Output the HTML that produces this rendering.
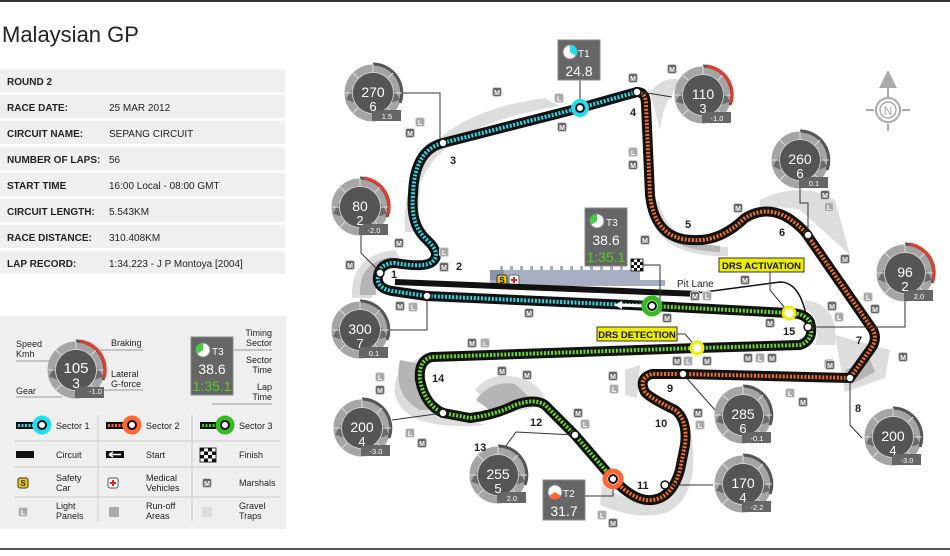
<!DOCTYPE html>
<html><head><meta charset="utf-8"><style>
body{margin:0;background:#fff;width:950px;height:551px;overflow:hidden;font-family:"Liberation Sans",sans-serif;}
</style></head><body>
<svg width="950" height="551" viewBox="0 0 950 551" xmlns="http://www.w3.org/2000/svg" font-family="Liberation Sans, sans-serif">
<defs>
<g id="mk"><rect x="-4.5" y="-4.5" width="9" height="9" rx="2" fill="#666" stroke="#ccc" stroke-width="1"/><text x="0" y="3" font-size="7" fill="#fff" text-anchor="middle" font-weight="bold">M</text></g>
<g id="lk"><rect x="-4.5" y="-4.5" width="9" height="9" rx="2" fill="#aaa" stroke="#ddd" stroke-width="1"/><text x="0" y="3" font-size="7" fill="#fff" text-anchor="middle" font-weight="bold">L</text></g>
<g id="dial">
<circle r="24.5" fill="none" stroke="#a5a5a5" stroke-width="8"/>
<path d="M-23,8 A24.5,24.5 0 0 1 23,8" fill="none" stroke="#6a6a6a" stroke-width="8"/>
<circle r="20.5" fill="#555"/>
<circle r="20.5" fill="none" stroke="#ddd" stroke-width="0.8"/>
<path d="M0,-29 A29,29 0 0 1 27,10" fill="none" stroke="#555" stroke-width="3"/>
<g stroke="#ddd" stroke-width="1"><line x1="0" y1="-21" x2="0" y2="-29"/><line x1="15" y1="-15" x2="20" y2="-20"/><line x1="-15" y1="-15" x2="-20" y2="-20"/><line x1="21" y1="0" x2="29" y2="0"/><line x1="-21" y1="0" x2="-29" y2="0"/><line x1="-15" y1="15" x2="-20" y2="20"/><line x1="15" y1="15" x2="20" y2="20"/></g>
<rect x="-1" y="17" width="29" height="11" fill="#666"/>
</g>
<g id="dialr">
<use href="#dial"/>
<path d="M4,-29 A29,29 0 0 1 28,8" fill="none" stroke="#e8392a" stroke-width="3"/>
</g>
</defs>

<rect x="0" y="0" width="950" height="2" fill="#333"/>
<rect x="0" y="548" width="950" height="2" fill="#555"/>

<text x="2" y="42" font-size="22" fill="#222">Malaysian GP</text>

<g font-size="10" font-weight="bold" fill="#222">
<rect x="0" y="69" width="285" height="23" fill="#efefef"/>
<rect x="0" y="95" width="285" height="23" fill="#efefef"/>
<rect x="0" y="121" width="285" height="23" fill="#efefef"/>
<rect x="0" y="147" width="285" height="23" fill="#efefef"/>
<rect x="0" y="173" width="285" height="23" fill="#efefef"/>
<rect x="0" y="199" width="285" height="23" fill="#efefef"/>
<rect x="0" y="225" width="285" height="23" fill="#efefef"/>
<rect x="0" y="251" width="285" height="23" fill="#efefef"/>
<text x="7" y="85">ROUND 2</text>
<text x="7" y="111">RACE DATE:</text>
<text x="7" y="137">CIRCUIT NAME:</text>
<text x="7" y="163">NUMBER OF LAPS:</text>
<text x="7" y="189">START TIME</text>
<text x="7" y="215">CIRCUIT LENGTH:</text>
<text x="7" y="241">RACE DISTANCE:</text>
<text x="7" y="267">LAP RECORD:</text>
<g font-weight="normal">
<text x="109" y="111">25 MAR 2012</text>
<text x="109" y="137">SEPANG CIRCUIT</text>
<text x="109" y="163">56</text>
<text x="109" y="189">16:00 Local - 08:00 GMT</text>
<text x="109" y="215">5.543KM</text>
<text x="109" y="241">310.408KM</text>
<text x="109" y="267">1:34.223 - J P Montoya [2004]</text>
</g></g>

<rect x="0" y="316" width="286" height="213" fill="#efefef"/>
<g font-size="9" fill="#222">
<use href="#dialr" x="76" y="370"/>
<text x="76" y="373" font-size="15" fill="#fff" text-anchor="middle">105</text>
<text x="76" y="388" font-size="14" fill="#fff" text-anchor="middle">3</text>
<text x="89" y="394" font-size="7.5" fill="#fff">-1.0</text>
<text x="16" y="347">Speed</text><text x="16" y="357">Kmh</text>
<line x1="16" y1="361" x2="50" y2="361" stroke="#999"/>
<text x="111" y="346">Braking</text>
<line x1="100" y1="350" x2="143" y2="350" stroke="#999"/>
<text x="111" y="377">Lateral</text><text x="111" y="387">G-force</text>
<line x1="104" y1="390" x2="143" y2="390" stroke="#999"/>
<text x="16" y="394">Gear</text>
<line x1="16" y1="397" x2="62" y2="397" stroke="#999"/>
<rect x="191" y="337" width="42" height="58" fill="#666" stroke="#888"/>
<circle cx="203" cy="350" r="7" fill="#fff" stroke="#888"/>
<path d="M203,350 L203,343 A7,7 0 0 0 197,354 Z" fill="#4c4"/>
<text x="212" y="355" font-size="10" fill="#fff">T3</text>
<text x="212" y="374" font-size="14" fill="#fff" text-anchor="middle">38.6</text>
<text x="212" y="391" font-size="14" fill="#5c2" text-anchor="middle">1:35.1</text>
<text x="272" y="336" text-anchor="end">Timing</text><text x="272" y="346" text-anchor="end">Sector</text>
<line x1="234" y1="350" x2="272" y2="350" stroke="#999"/>
<text x="272" y="363" text-anchor="end">Sector</text><text x="272" y="373" text-anchor="end">Time</text>
<text x="272" y="390" text-anchor="end">Lap</text><text x="272" y="400" text-anchor="end">Time</text>
<line x1="212" y1="404" x2="272" y2="404" stroke="#999"/>
<g stroke="#ccc"><line x1="98" y1="415" x2="98" y2="522"/><line x1="192" y1="415" x2="192" y2="522"/><line x1="14" y1="441" x2="280" y2="441"/><line x1="14" y1="467" x2="280" y2="467"/><line x1="14" y1="497" x2="280" y2="497"/></g>
<rect x="16" y="422" width="20" height="7" fill="#111"/><line x1="18" y1="425.5" x2="34" y2="425.5" stroke="#2de" stroke-width="3" stroke-dasharray="2,1.5"/>
<circle cx="42" cy="425" r="7" fill="#fff" stroke="#2de" stroke-width="5"/><circle cx="42" cy="425" r="4" fill="#fff" stroke="#111" stroke-width="2"/>
<text x="56" y="429">Sector 1</text>
<rect x="106" y="422" width="20" height="7" fill="#111"/><line x1="108" y1="425.5" x2="124" y2="425.5" stroke="#f63" stroke-width="3" stroke-dasharray="2,1.5"/>
<circle cx="132" cy="425" r="7" fill="#fff" stroke="#f63" stroke-width="5"/><circle cx="132" cy="425" r="4" fill="#fff" stroke="#111" stroke-width="2"/>
<text x="146" y="429">Sector 2</text>
<rect x="200" y="422" width="20" height="7" fill="#111"/><line x1="202" y1="425.5" x2="218" y2="425.5" stroke="#4c2" stroke-width="3" stroke-dasharray="2,1.5"/>
<circle cx="225" cy="425" r="7" fill="#fff" stroke="#3b2" stroke-width="5"/><circle cx="225" cy="425" r="4" fill="#fff" stroke="#111" stroke-width="2"/>
<text x="239" y="429">Sector 3</text>
<rect x="16" y="451" width="18" height="7" fill="#111"/><text x="56" y="458">Circuit</text>
<rect x="106" y="451" width="18" height="7" fill="#111"/><path d="M109,454.5 L121,454.5 M109,454.5 L113,452 M109,454.5 L113,457" stroke="#fff" stroke-width="1.5"/><text x="146" y="458">Start</text>
<g><rect x="200" y="448" width="16" height="14" fill="#fff" stroke="#333"/><rect x="200" y="448" width="4" height="3.5" fill="#111"/><rect x="208" y="448" width="4" height="3.5" fill="#111"/><rect x="204" y="451.5" width="4" height="3.5" fill="#111"/><rect x="212" y="451.5" width="4" height="3.5" fill="#111"/><rect x="200" y="455" width="4" height="3.5" fill="#111"/><rect x="208" y="455" width="4" height="3.5" fill="#111"/><rect x="204" y="458.5" width="4" height="3.5" fill="#111"/><rect x="212" y="458.5" width="4" height="3.5" fill="#111"/></g>
<text x="239" y="458">Finish</text>
<rect x="18" y="478" width="10" height="10" rx="2" fill="#ec0" stroke="#333"/><text x="23" y="486" font-size="8" font-weight="bold" text-anchor="middle">S</text>
<text x="56" y="481">Safety</text><text x="56" y="491">Car</text>
<rect x="108" y="478" width="10" height="10" rx="2" fill="#fff" stroke="#555"/><path d="M113,480 V486 M110,483 H116" stroke="#e22" stroke-width="2"/>
<text x="146" y="481">Medical</text><text x="146" y="491">Vehicles</text>
<use href="#mk" x="207" y="483"/><text x="239" y="486">Marshals</text>
<use href="#lk" x="23" y="512"/><text x="56" y="509">Light</text><text x="56" y="519">Panels</text>
<rect x="109" y="507" width="10" height="10" fill="#aaa"/><text x="146" y="509">Run-off</text><text x="146" y="519">Areas</text>
<rect x="202" y="507" width="10" height="10" fill="#ddd"/><text x="239" y="509">Gravel</text><text x="239" y="519">Traps</text>
</g>

<g fill="#ddd">
<path d="M405,232 Q398,118 545,98 L560,106 Q440,125 420,185 L418,232 Z"/>
<path d="M352,298 Q350,255 395,250 L402,262 Q372,266 372,298 Z"/>
<path d="M650,92 Q665,75 680,80 L672,95 Q663,105 660,130 Z"/>
<path d="M648,205 Q655,258 728,256 L728,247 Q668,245 658,200 Z"/>
<path d="M760,200 Q800,180 835,200 L850,255 L800,210 Q780,205 760,210 Z"/>
<path d="M835,335 L890,350 L885,378 L845,392 Z"/>
<path d="M805,300 Q840,305 835,345 L815,345 Q822,315 805,310 Z"/>
<path d="M440,352 Q390,362 395,395 Q405,432 485,425 L460,418 Q425,410 425,370 Z"/>
<path d="M475,390 Q490,370 520,378 Q545,385 545,405 L500,415 Z"/>
<path d="M688,418 Q705,492 668,512 Q640,522 600,505 L602,485 Q640,512 668,490 Q686,460 680,420 Z"/>
<path d="M625,370 L640,365 L637,398 L625,395 Z"/>
</g>
<g fill="#b5b5b5">
<path d="M360,295 Q358,262 392,257 L396,265 Q374,268 376,295 Z"/>
<path d="M652,215 Q662,250 720,252 L720,246 Q670,242 656,212 Z"/>
<path d="M400,360 Q392,395 420,410 L440,410 Q420,395 425,365 Z"/>
<path d="M845,370 L870,360 L875,372 L850,385 Z"/>
<path d="M476,400 Q490,380 515,384 L530,398 L495,414 Z"/>
</g>

<path d="M490,270 L500,270 L500,266 L503,266 L503,270 L510,270 L510,266 L513,266 L513,270 L520,270 L520,266 L523,266 L523,270 L530,270 L530,266 L533,266 L533,270 L540,270 L540,266 L543,266 L543,270 L550,270 L550,266 L553,266 L553,270 L560,270 L560,266 L563,266 L563,270 L570,270 L570,266 L573,266 L573,270 L580,270 L580,266 L583,266 L583,270 L590,270 L590,266 L593,266 L593,270 L600,270 L600,266 L603,266 L603,270 L610,270 L610,266 L613,266 L613,270 L620,270 L620,266 L623,266 L623,270 L640,270 L640,280 L665,280 L665,286 L490,286 Z" fill="#a7b0c2"/>
<rect x="490" y="270" width="14" height="10" fill="#8a94aa"/>
<rect x="497" y="275" width="10" height="10" rx="2" fill="#ec0" stroke="#333"/><text x="502" y="283" font-size="8" font-weight="bold" text-anchor="middle">S</text>
<rect x="509" y="275" width="10" height="10" rx="2" fill="#fff" stroke="#666"/><path d="M514,277 V283 M511,280 H517" stroke="#e22" stroke-width="2"/>

<path d="M395,282 L700,294" stroke="#111" stroke-width="6" fill="none"/>
<path d="M690,294 L780,282 Q802,282 808,326" stroke="#111" stroke-width="1.5" fill="none"/>
<text x="677" y="287" font-size="10" fill="#222">Pit Lane</text>

<g fill="none" stroke="#111" stroke-width="10" stroke-linejoin="round" stroke-linecap="round">
<path id="s1" d="M652,306 L427,296 L392,291 Q376,288 378,276 Q380,263 395,263 Q425,268 432,262 Q442,254 427,240 Q410,225 413,195 Q414,150 443,143 L580,108 L637,92"/>
<path id="s2" d="M637,92 Q646,92 646,105 L650,195 Q655,240 693,240 Q720,242 745,218 Q775,200 805,232 L873,330 Q878,340 870,350 L850,378 L683,374 L652,374 Q638,378 645,392 Q650,398 675,410 Q688,420 685,445 L680,470 Q672,498 652,500 Q635,502 613,479"/>
<path id="s3" d="M613,479 L575,435 L545,405 Q535,398 515,405 Q495,415 470,418 L443,413 Q425,405 420,380 Q418,360 432,357 L697,348 L800,345 Q815,340 810,322 Q805,313 789,313 L652,306"/>
</g>
<g fill="none" stroke-width="4" stroke-dasharray="2,1.6">
<use href="#s1" stroke="#2ad8e8"/>
<use href="#s2" stroke="#f07020"/>
<use href="#s3" stroke="#6ddc20"/>
</g>
<path d="M618,305 L645,306" stroke="#fff" stroke-width="3"/><path d="M614,305 L622,301 L622,309 Z" fill="#fff"/>

<g stroke="#333" stroke-width="1" fill="none">
<polyline points="400,93 440,93 440,143"/>
<polyline points="361,232 361,253 380,272"/>
<polyline points="389,330 427,330 427,296"/>
<polyline points="392,420 443,413"/>
<polyline points="503,450 516,432 575,435"/>
<polyline points="580,80 580,108"/>
<polyline points="672,97 641,92"/>
<polyline points="800,188 800,203 808,203 808,235"/>
<polyline points="905,300 905,327 808,327"/>
<polyline points="715,410 683,374"/>
<polyline points="713,485 665,485"/>
<polyline points="862,438 850,425 850,378"/>
<polyline points="613,479 613,496 585,496"/>
<polyline points="641,265 660,265 660,306 652,306"/>
<polyline points="770,272 770,290 789,313"/>
<polyline points="677,334 685,334 697,348"/>
</g>

<g fill="#fff" stroke="#111" stroke-width="1.5">
<circle cx="380" cy="273" r="4"/><circle cx="427" cy="296" r="4"/><circle cx="443" cy="143" r="4"/><circle cx="637" cy="92" r="4"/>
<circle cx="808" cy="235" r="4"/><circle cx="850" cy="378" r="4"/><circle cx="683" cy="374" r="4"/><circle cx="665" cy="485" r="4"/>
<circle cx="575" cy="435" r="4"/><circle cx="443" cy="413" r="4"/><circle cx="808" cy="327" r="4"/>
</g>
<circle cx="580" cy="108" r="7" fill="#fff" stroke="#2de" stroke-width="4"/><circle cx="580" cy="108" r="4" fill="#fff" stroke="#111" stroke-width="2"/>
<circle cx="613" cy="479" r="8" fill="#fff" stroke="#f63" stroke-width="5"/><circle cx="613" cy="479" r="4" fill="#fff" stroke="#111" stroke-width="2"/>
<circle cx="652" cy="306" r="8" fill="#fff" stroke="#3b2" stroke-width="5"/><circle cx="652" cy="306" r="4" fill="#fff" stroke="#111" stroke-width="2"/>
<circle cx="789" cy="313" r="6" fill="#fff" stroke="#ee0" stroke-width="3"/>
<circle cx="697" cy="348" r="6" fill="#fff" stroke="#ee0" stroke-width="3"/>

<g><rect x="631" y="259" width="12" height="12" fill="#fff" stroke="#333"/><rect x="631" y="259" width="3" height="3" fill="#111"/><rect x="637" y="259" width="3" height="3" fill="#111"/><rect x="634" y="262" width="3" height="3" fill="#111"/><rect x="640" y="262" width="3" height="3" fill="#111"/><rect x="631" y="265" width="3" height="3" fill="#111"/><rect x="637" y="265" width="3" height="3" fill="#111"/><rect x="634" y="268" width="3" height="3" fill="#111"/><rect x="640" y="268" width="3" height="3" fill="#111"/></g>

<rect x="719" y="258" width="85" height="14" fill="#ee0" stroke="#333"/><text x="761.5" y="269" font-size="9.5" font-weight="bold" text-anchor="middle" fill="#111">DRS ACTIVATION</text>
<rect x="597" y="327" width="80" height="14" fill="#ee0" stroke="#333"/><text x="637" y="338" font-size="9.5" font-weight="bold" text-anchor="middle" fill="#111">DRS DETECTION</text>

<g>
<rect x="558" y="40" width="42" height="40" fill="#666" stroke="#888"/>
<circle cx="570" cy="52" r="7" fill="#fff" stroke="#888"/><path d="M570,52 L570,45 A7,7 0 0 1 576,56 Z" fill="#2de"/>
<text x="578" y="57" font-size="10" fill="#fff">T1</text>
<text x="579" y="76" font-size="14" fill="#fff" text-anchor="middle">24.8</text>
<rect x="585" y="208" width="42" height="58" fill="#666" stroke="#888"/>
<circle cx="597" cy="221" r="7" fill="#fff" stroke="#888"/><path d="M597,221 L597,214 A7,7 0 0 0 591,225 Z" fill="#4c4"/>
<text x="606" y="226" font-size="10" fill="#fff">T3</text>
<text x="606" y="245" font-size="14" fill="#fff" text-anchor="middle">38.6</text>
<text x="606" y="262" font-size="14" fill="#5c2" text-anchor="middle">1:35.1</text>
<rect x="543" y="480" width="42" height="40" fill="#666" stroke="#888"/>
<circle cx="555" cy="492" r="7" fill="#fff" stroke="#888"/><path d="M555,492 L561,496 A7,7 0 0 1 549,496 Z" fill="#f63"/>
<text x="563" y="497" font-size="10" fill="#fff">T2</text>
<text x="564" y="516" font-size="14" fill="#fff" text-anchor="middle">31.7</text>
</g>

<g fill="#fff" text-anchor="middle">
<use href="#dial" x="373" y="93"/><text x="373" y="97" font-size="14">270</text><text x="373" y="111" font-size="13">6</text><text x="387" y="119" font-size="7.5">1.5</text>
<use href="#dialr" x="360" y="207"/><text x="360" y="211" font-size="14">80</text><text x="360" y="225" font-size="13">2</text><text x="374" y="233" font-size="7.5">-2.0</text>
<use href="#dial" x="360" y="330"/><text x="360" y="334" font-size="14">300</text><text x="360" y="348" font-size="13">7</text><text x="374" y="356" font-size="7.5">0.1</text>
<use href="#dial" x="362" y="428"/><text x="362" y="432" font-size="14">200</text><text x="362" y="446" font-size="13">4</text><text x="376" y="454" font-size="7.5">-3.0</text>
<use href="#dial" x="498" y="475"/><text x="498" y="479" font-size="14">255</text><text x="498" y="493" font-size="13">5</text><text x="512" y="501" font-size="7.5">2.0</text>
<use href="#dialr" x="703" y="95"/><text x="703" y="99" font-size="14">110</text><text x="703" y="113" font-size="13">3</text><text x="717" y="121" font-size="7.5">-1.0</text>
<use href="#dial" x="800" y="160"/><text x="800" y="164" font-size="14">260</text><text x="800" y="178" font-size="13">6</text><text x="814" y="186" font-size="7.5">0.1</text>
<use href="#dialr" x="905" y="273"/><text x="905" y="277" font-size="14">96</text><text x="905" y="291" font-size="13">2</text><text x="919" y="299" font-size="7.5">2.0</text>
<use href="#dial" x="743" y="415"/><text x="743" y="419" font-size="14">285</text><text x="743" y="433" font-size="13">6</text><text x="757" y="441" font-size="7.5">-0.1</text>
<use href="#dial" x="743" y="484"/><text x="743" y="488" font-size="14">170</text><text x="743" y="502" font-size="13">4</text><text x="757" y="510" font-size="7.5">-2.2</text>
<use href="#dial" x="893" y="437"/><text x="893" y="441" font-size="14">200</text><text x="893" y="455" font-size="13">4</text><text x="907" y="463" font-size="7.5">-3.0</text>
</g>

<g stroke="#aaa" fill="none" stroke-width="2">
<circle cx="888" cy="110" r="12"/><circle cx="888" cy="110" r="8" stroke-width="1.5"/>
<line x1="874" y1="110" x2="866" y2="110"/><line x1="902" y1="110" x2="910" y2="110"/><line x1="888" y1="124" x2="888" y2="131"/><line x1="888" y1="98" x2="888" y2="88"/>
</g>
<path d="M888,70 L897,88 L879,88 Z" fill="#aaa"/>
<text x="888" y="115" font-size="12" fill="#aaa" text-anchor="middle">N</text>

<g font-size="11" font-weight="bold" fill="#222">
<text x="391" y="278">1</text><text x="456" y="270">2</text><text x="450" y="164">3</text><text x="630" y="116">4</text>
<text x="685" y="228">5</text><text x="779" y="236">6</text><text x="856" y="344">7</text><text x="855" y="412">8</text>
<text x="667" y="392">9</text><text x="655" y="427">10</text><text x="637" y="489">11</text><text x="530" y="426">12</text>
<text x="474" y="451">13</text><text x="432" y="382">14</text><text x="783" y="335">15</text>
</g>

<g>
<use href="#mk" x="497" y="92"/><use href="#lk" x="559" y="98"/><use href="#mk" x="562" y="127"/>
<use href="#mk" x="410" y="133"/><use href="#lk" x="420" y="122"/><use href="#mk" x="399" y="243"/>
<use href="#mk" x="350" y="265"/><use href="#lk" x="444" y="252"/><use href="#mk" x="444" y="267"/>
<use href="#mk" x="400" y="306"/><use href="#lk" x="413" y="307"/><use href="#mk" x="529" y="313"/>
<use href="#mk" x="633" y="78"/><use href="#lk" x="633" y="152"/><use href="#mk" x="633" y="165"/>
<use href="#mk" x="645" y="240"/><use href="#mk" x="672" y="69"/><use href="#mk" x="738" y="208"/>
<use href="#mk" x="825" y="195"/><use href="#lk" x="829" y="207"/><use href="#mk" x="845" y="259"/>
<use href="#mk" x="745" y="280"/><use href="#mk" x="695" y="296"/><use href="#lk" x="707" y="296"/>
<use href="#mk" x="667" y="318"/><use href="#mk" x="770" y="323"/><use href="#lk" x="868" y="297"/>
<use href="#mk" x="875" y="309"/><use href="#mk" x="832" y="306"/><use href="#lk" x="839" y="317"/>
<use href="#mk" x="748" y="358"/><use href="#lk" x="760" y="358"/><use href="#mk" x="772" y="358"/>
<use href="#mk" x="677" y="361"/><use href="#lk" x="688" y="361"/><use href="#mk" x="707" y="361"/>
<use href="#mk" x="829" y="364"/><use href="#mk" x="903" y="357"/><use href="#mk" x="613" y="376"/>
<use href="#lk" x="614" y="389"/><use href="#mk" x="472" y="343"/><use href="#lk" x="485" y="343"/>
<use href="#lk" x="380" y="377"/><use href="#mk" x="380" y="390"/><use href="#mk" x="502" y="371"/>
<use href="#mk" x="527" y="375"/><use href="#mk" x="578" y="413"/><use href="#lk" x="585" y="424"/>
<use href="#mk" x="698" y="413"/><use href="#lk" x="700" y="425"/><use href="#lk" x="410" y="433"/>
<use href="#mk" x="422" y="443"/><use href="#lk" x="602" y="515"/><use href="#mk" x="613" y="523"/>
<use href="#lk" x="790" y="393"/><use href="#mk" x="803" y="402"/><use href="#mk" x="830" y="365"/>
</g>
</svg>
</body></html>
